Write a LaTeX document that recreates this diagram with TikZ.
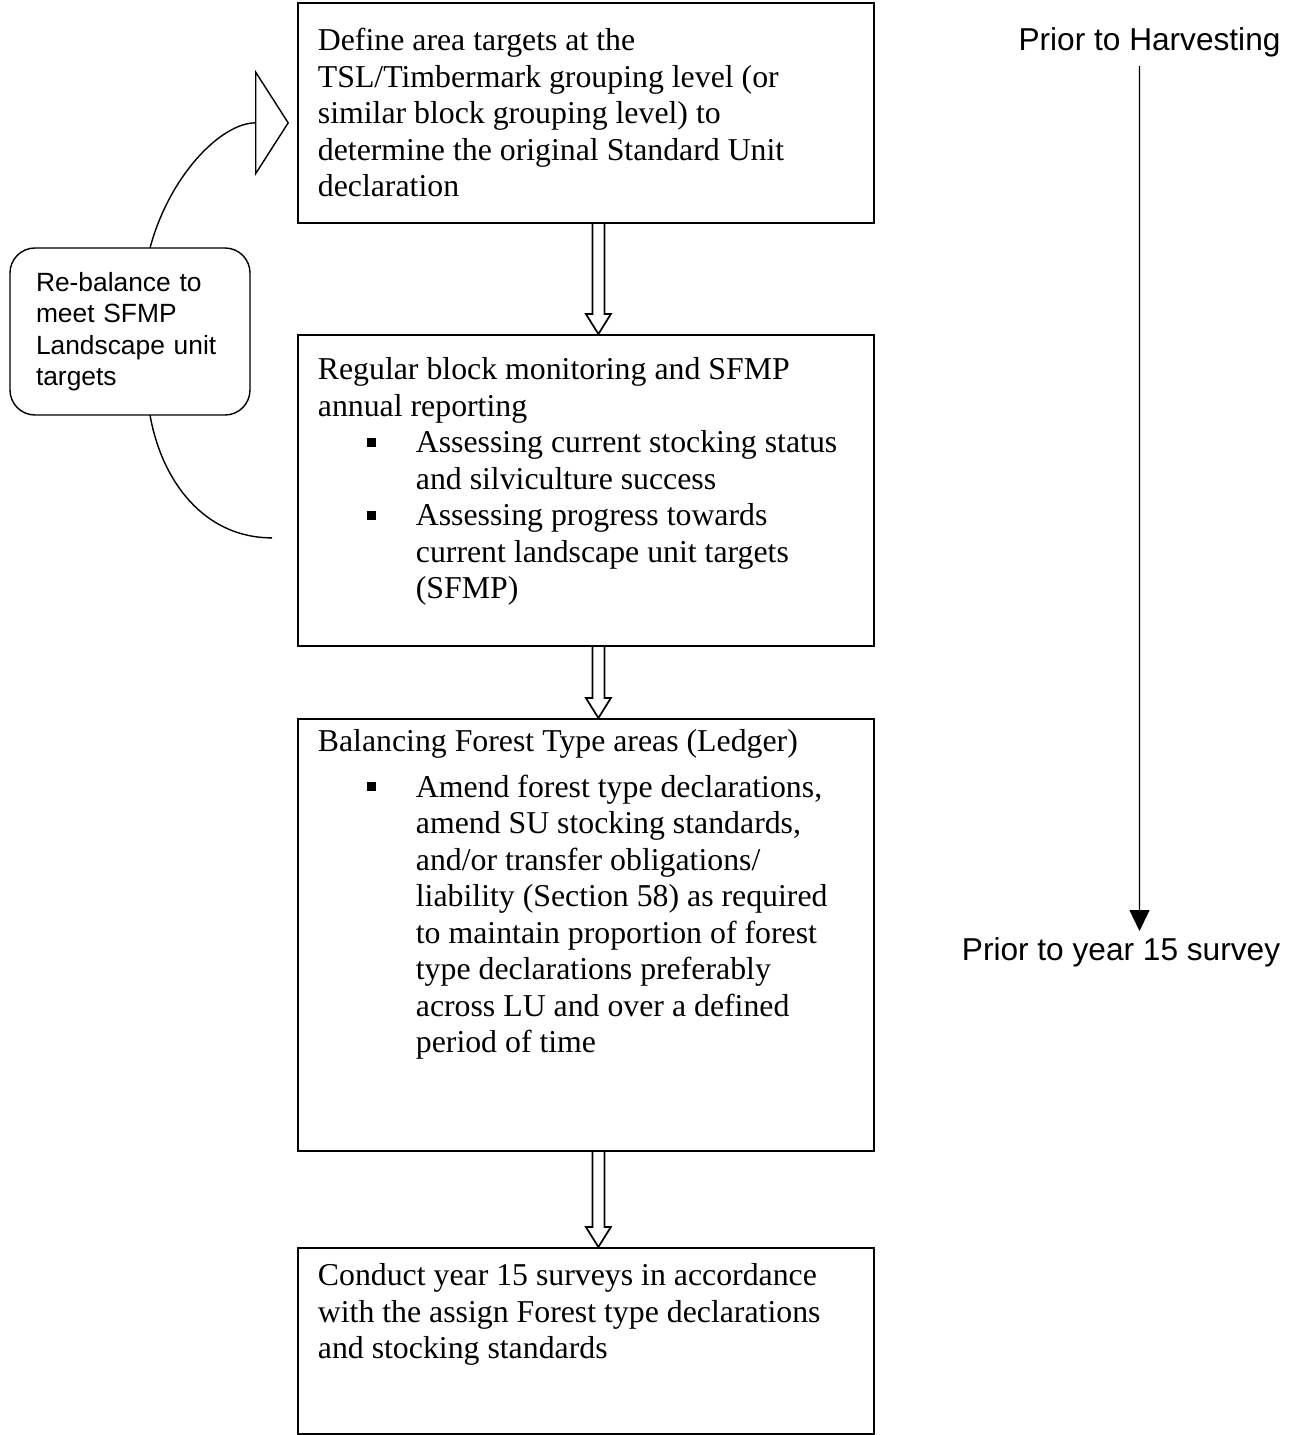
\documentclass[tikz,border=0pt]{standalone}
\usepackage{fontspec}
\setmainfont{Liberation Serif}
\setsansfont{Liberation Sans}
\usetikzlibrary{arrows.meta,positioning,calc}

\tikzset{
  stepbox/.style={draw,line width=1pt,anchor=north west,inner xsep=0.4cm,inner ysep=0pt,font=\fontsize{18.1}{20.75}\selectfont},
  sidebox/.style={draw,line width=0.8pt,rounded corners=0.5cm,fill=white,align=left,text width=3.76cm,minimum width=4.8cm,minimum height=3.34cm,inner xsep=0.52cm,font=\sffamily\fontsize{15}{17.9}\selectfont},
  timelabel/.style={font=\sffamily\fontsize{18}{21}\selectfont,inner sep=0pt,anchor=base},
  hollow/.style={line width=1pt,line join=miter},
}
\newcommand{\boxtext}[3]{\parbox[t][#1][t]{10.72cm}{\raggedright\rule{0pt}{#2}#3}}
\newcommand{\bitem}[1]{\par{\leftskip=1.96cm\noindent\llap{\raisebox{0.12cm}{\rule{0.18cm}{0.18cm}}\hspace{0.8cm}}#1\par}}

\begin{document}
\begin{tikzpicture}
\useasboundingbox (0,0) rectangle (25.8,-28.7);
% flow boxes
\node[stepbox] (b1) at (5.94,-0.04) {\boxtext{4.40cm}{0.96cm}{Define area targets at the\\TSL/Timbermark grouping level (or\\similar block grouping level) to\\determine the original Standard Unit\\declaration}};
\node[stepbox] (b2) at (5.94,-6.68) {\boxtext{6.22cm}{0.9cm}{Regular block monitoring and SFMP\\annual reporting
  \bitem{Assessing current stocking status\\and silviculture success}
  \bitem{Assessing progress towards\\current landscape unit targets\\(SFMP)}}};
\node[stepbox] (b3) at (5.94,-14.36) {\boxtext{8.64cm}{0.66cm}{Balancing Forest Type areas (Ledger)\par\vspace{0.18cm}
  \bitem{Amend forest type declarations,\\amend SU stocking standards,\\and/or transfer obligations/\\liability (Section 58) as required\\to maintain proportion of forest\\type declarations preferably\\across LU and over a defined\\period of time}}};
\node[stepbox] (b4) at (5.94,-24.94) {\boxtext{3.72cm}{0.76cm}{Conduct year 15 surveys in accordance\\with the assign Forest type declarations\\and stocking standards}};

% hollow arrows between boxes
\foreach \a/\b in {b1/b2,b2/b3,b3/b4}
  \draw[hollow] ([xshift=0.13cm]\a.south) -- ([xshift=0.13cm,yshift=0.4cm]\b.north) -- ([yshift=0.4cm]\b.north)
    -- ([xshift=0.25cm]\b.north) -- ([xshift=0.5cm,yshift=0.4cm]\b.north) -- ([xshift=0.37cm,yshift=0.4cm]\b.north)
    -- ([xshift=0.37cm]\a.south);

% re-balance loop
\coordinate (loopstart) at ([xshift=-0.5cm,yshift=-0.95cm]b2.west);
\draw[line width=0.8pt] (loopstart) to[out=180,in=-80] ([xshift=0.4cm,yshift=-1.67cm]2.6,-6.63);
\draw[line width=0.8pt,-{Triangle[open,length=0.68cm,width=2.12cm]},shorten >=0.16cm] ([xshift=0.4cm,yshift=1.67cm]2.6,-6.63) to[out=75,in=180] ([yshift=-0.2cm]b1.west);
\node[sidebox] (rebal) at (2.6,-6.63) {Re-balance to\\meet SFMP\\Landscape unit\\targets\\[-0.16cm]};

% time line
\node[timelabel] (prior) at (22.99,-1.02) {Prior to Harvesting};
\node[timelabel] (year15) at (22.42,-19.2) {Prior to year 15 survey};
\draw[line width=0.8pt,-{Triangle[length=0.42cm,width=0.4cm]}] ([xshift=-0.2cm,yshift=-0.3cm]prior.base) -- ([xshift=0.37cm,yshift=0.58cm]year15.base);
\end{tikzpicture}
\end{document}
